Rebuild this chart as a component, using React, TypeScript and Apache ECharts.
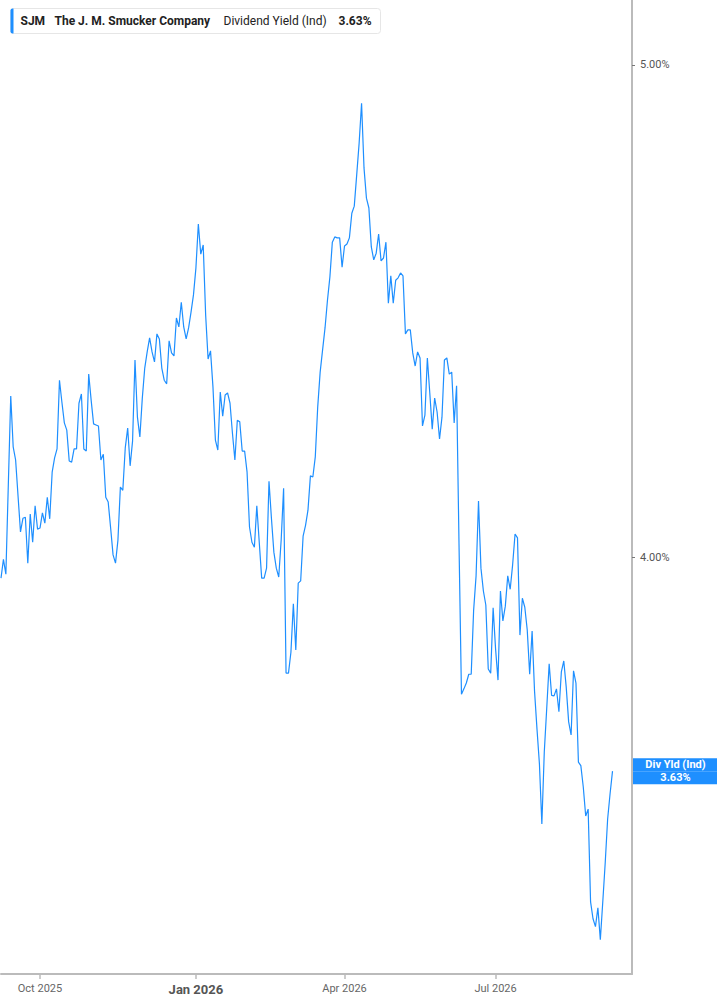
import React, { useEffect, useRef } from "react";
import * as echarts from "echarts";

const ticker = "SJM";
const company = "The J. M. Smucker Company";
const metric = "Dividend Yield (Ind)";
const endTag = "Div Yld (Ind)";
const firstDay = "2025-09-09";
const totalDays = 260;
const marketHolidays = [
  "2025-11-27", "2025-12-25", "2026-01-01", "2026-01-19", "2026-02-16",
  "2026-04-03", "2026-05-25", "2026-06-19", "2026-07-03", "2026-09-07",
];
const monthNames = ["Jan", "Feb", "Mar", "Apr", "May", "Jun", "Jul", "Aug", "Sep", "Oct", "Nov", "Dec"];
const quarterMonths = [1, 4, 7, 10];
const yAxisTicks = [4, 5];
const yRange = [3.311, 5.1495];

// Dividend yield (%), one value per trading day
const yieldPct = [
  3.962, 3.996, 3.969, 4.133, 4.303, 4.205, 4.180, 4.112, 4.046, 4.071,
  4.073, 3.989, 4.079, 4.027, 4.094, 4.051, 4.053, 4.081, 4.062, 4.110,
  4.070, 4.157, 4.184, 4.201, 4.334, 4.291, 4.251, 4.237, 4.178, 4.176,
  4.201, 4.201, 4.289, 4.307, 4.201, 4.197, 4.346, 4.295, 4.249, 4.247,
  4.245, 4.180, 4.191, 4.110, 4.101, 4.053, 4.004, 3.989, 4.031, 4.129,
  4.123, 4.203, 4.241, 4.169, 4.216, 4.374, 4.262, 4.224, 4.299, 4.358,
  4.390, 4.418, 4.390, 4.370, 4.426, 4.416, 4.358, 4.334, 4.327, 4.412,
  4.388, 4.382, 4.458, 4.440, 4.490, 4.440, 4.416, 4.438, 4.470, 4.505,
  4.560, 4.652, 4.589, 4.608, 4.464, 4.376, 4.392, 4.321, 4.218, 4.199,
  4.311, 4.264, 4.305, 4.309, 4.289, 4.231, 4.180, 4.256, 4.253, 4.197,
  4.197, 4.157, 4.055, 4.027, 4.018, 4.094, 4.027, 3.962, 3.962, 3.980,
  4.140, 4.071, 4.009, 3.980, 3.964, 4.031, 4.127, 3.795, 3.795, 3.831,
  3.916, 3.835, 3.953, 3.957, 4.038, 4.058, 4.086, 4.150, 4.148, 4.186,
  4.282, 4.350, 4.394, 4.438, 4.494, 4.542, 4.614, 4.625, 4.623, 4.623,
  4.562, 4.606, 4.610, 4.623, 4.675, 4.690, 4.757, 4.826, 4.914, 4.772,
  4.707, 4.686, 4.604, 4.577, 4.591, 4.631, 4.575, 4.581, 4.614, 4.488,
  4.544, 4.488, 4.535, 4.540, 4.550, 4.544, 4.426, 4.434, 4.434, 4.388,
  4.362, 4.390, 4.378, 4.245, 4.266, 4.378, 4.309, 4.239, 4.299, 4.272,
  4.220, 4.262, 4.374, 4.378, 4.346, 4.350, 4.251, 4.323, 4.022, 3.759,
  3.768, 3.778, 3.793, 3.793, 3.905, 3.966, 4.103, 3.980, 3.939, 3.914,
  3.802, 3.795, 3.909, 3.837, 3.783, 3.939, 3.886, 3.912, 3.966, 3.942,
  3.986, 4.042, 4.035, 3.861, 3.926, 3.910, 3.870, 3.793, 3.868, 3.764,
  3.700, 3.642, 3.544, 3.662, 3.735, 3.811, 3.757, 3.756, 3.768, 3.729,
  3.797, 3.816, 3.771, 3.712, 3.690, 3.799, 3.778, 3.645, 3.639, 3.604,
  3.557, 3.568, 3.421, 3.395, 3.383, 3.412, 3.363, 3.421, 3.482, 3.552,
  3.593, 3.630,
];

function buildTradingDays(start: string, count: number, holidays: string[]): string[] {
  const out: string[] = [];
  const d = new Date(start + "T00:00:00Z");
  while (out.length < count) {
    const wd = d.getUTCDay();
    const s = d.toISOString().slice(0, 10);
    if (wd !== 0 && wd !== 6 && !holidays.includes(s)) out.push(s);
    d.setUTCDate(d.getUTCDate() + 1);
  }
  return out;
}

const FONT = "Roboto, 'Noto Sans', sans-serif";
const BLUE = "#1e8fff";

export default function App() {
  const ref = useRef<HTMLDivElement>(null);

  useEffect(() => {
    if (!ref.current) return;
    const chart = echarts.init(ref.current, undefined, { renderer: "svg" });

    const days = buildTradingDays(firstDay, totalDays, marketHolidays);
    const monthOf = (s: string) => parseInt(s.slice(5, 7), 10);
    const isQuarterStart = (i: number) =>
      i > 0 && monthOf(days[i]) !== monthOf(days[i - 1]) && quarterMonths.includes(monthOf(days[i]));
    const seriesData = days.map((_, i) => (i < yieldPct.length ? Math.log(yieldPct[i]) : null));
    const last = yieldPct[yieldPct.length - 1];
    const lastText = last.toFixed(2) + "%";

    const option: any = {
      animation: false,
      backgroundColor: "#ffffff",
      grid: { left: 1, right: 85, top: 0, bottom: 31, outerBoundsMode: "none" },
      xAxis: {
        type: "category",
        data: days,
        boundaryGap: false,
        axisLine: { show: true, onZero: false, lineStyle: { color: "#bbbbbb", width: 2 } },
        axisTick: {
          show: true,
          interval: (i: number) => isQuarterStart(i),
          length: 5,
          lineStyle: { color: "#bbbbbb", width: 1.5 },
        },
        axisLabel: {
          interval: (i: number) => isQuarterStart(i),
          margin: 9,
          color: "#666666",
          fontSize: 11,
          fontFamily: FONT,
          hideOverlap: false,
          formatter: (value: string) => {
            const m = monthOf(value);
            const name = monthNames[m - 1] + " " + value.slice(0, 4);
            return m === 1 ? `{yr|${name}}` : name;
          },
          rich: {
            yr: { fontWeight: "bold", fontSize: 13, color: "#555555", fontFamily: FONT },
          },
        },
        splitLine: { show: false },
      },
      yAxis: [
        {
          type: "value",
          position: "right",
          min: Math.log(yRange[0]),
          max: Math.log(yRange[1]),
          splitLine: { show: false },
          axisLine: { show: true, onZero: false, lineStyle: { color: "#bbbbbb", width: 2 } },
          axisTick: {
            show: true,
            length: 3,
            customValues: yAxisTicks.map((v) => Math.log(v)),
            lineStyle: { color: "#777777", width: 1 },
          },
          axisLabel: {
            customValues: yAxisTicks.map((v) => Math.log(v)),
            formatter: (v: number) => Math.exp(v).toFixed(2) + "%",
            color: "#555555",
            fontSize: 11,
            fontFamily: FONT,
            margin: 8,
          },
        },
        {
          type: "value",
          position: "right",
          min: Math.log(yRange[0]),
          max: Math.log(yRange[1]),
          splitLine: { show: false },
          axisLine: { show: false },
          axisTick: { show: false },
          axisLabel: {
            customValues: [Math.log(last)],
            margin: 1,
            formatter: () => `{a|${endTag}}\n{a|${lastText}}`,
            rich: {
              a: {
                width: 85,
                height: 13,
                lineHeight: 13,
                align: "center",
                backgroundColor: BLUE,
                color: "#ffffff",
                fontWeight: "bold",
                fontSize: 11,
                fontFamily: FONT,
              },
            },
          },
        },
      ],
      series: [
        {
          type: "line",
          data: seriesData,
          xAxisIndex: 0,
          yAxisIndex: 0,
          showSymbol: false,
          symbol: "none",
          silent: true,
          lineStyle: { color: BLUE, width: 1.2 },
        },
      ],
      graphic: [
        {
          type: "group",
          left: 10,
          top: 8,
          children: [
            {
              type: "rect",
              shape: { x: 0, y: 0, width: 370, height: 25, r: 3 },
              style: { fill: "#ffffff", stroke: "#e6e6e6", lineWidth: 1 },
            },
            {
              type: "rect",
              shape: { x: 0, y: 0, width: 3, height: 25, r: [2, 0, 0, 2] },
              style: { fill: BLUE },
            },
            {
              type: "text",
              x: 10,
              y: 12.5,
              style: { text: ticker, fill: "#222222", font: `bold 12px ${FONT}`, verticalAlign: "middle" },
            },
            {
              type: "text",
              x: 44,
              y: 12.5,
              style: { text: company, fill: "#222222", font: `bold 12px ${FONT}`, verticalAlign: "middle" },
            },
            {
              type: "text",
              x: 213,
              y: 12.5,
              style: { text: metric, fill: "#222222", font: `12px ${FONT}`, verticalAlign: "middle" },
            },
            {
              type: "text",
              x: 328,
              y: 12.5,
              style: { text: lastText, fill: "#222222", font: `bold 12px ${FONT}`, verticalAlign: "middle" },
            },
          ],
        },
      ],
    };

    chart.setOption(option);
    return () => chart.dispose();
  }, []);

  return (
    <div
      ref={ref}
      style={{ position: "absolute", left: 0, top: 0, width: 717, height: 1005 }}
    />
  );
}
